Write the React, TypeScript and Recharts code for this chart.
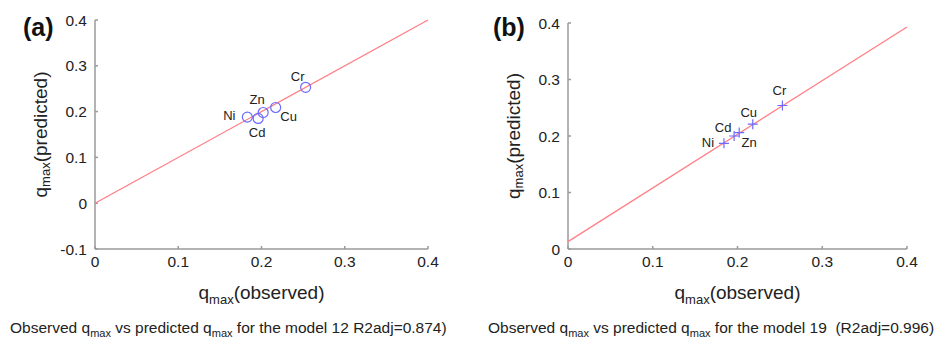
import React from "react";
import { ScatterChart, Scatter, XAxis, YAxis, LabelList, Label } from "recharts";

const metals = ["Ni", "Cd", "Zn", "Cu", "Cr"];
const observedA = [0.183, 0.196, 0.202, 0.217, 0.253];
const predictedA = [0.188, 0.185, 0.198, 0.209, 0.253];
const observedB = [0.184, 0.196, 0.202, 0.218, 0.253];
const predictedB = [0.187, 0.2, 0.206, 0.221, 0.254];
const fitX = [0, 0.4];
const fitA = [0, 0.4];
const fitB = [0.013, 0.393];
const xTicks = [0, 0.1, 0.2, 0.3, 0.4];
const yTicksA = [-0.1, 0, 0.1, 0.2, 0.3, 0.4];
const yTicksB = [0, 0.1, 0.2, 0.3, 0.4];

// label placement around each marker (px), per panel
const labelOffsetA: Record<string, [number, number]> = {
  Ni: [-18, -2],
  Cd: [-1, 14],
  Zn: [-6, -13],
  Cu: [13, 9],
  Cr: [-8, -11],
};
const labelOffsetB: Record<string, [number, number]> = {
  Ni: [-16, -1],
  Cd: [-11, -9],
  Zn: [10, 10],
  Cu: [-4, -12],
  Cr: [-3, -15],
};

const FONT = "'Liberation Sans', Arial, sans-serif";
const AXIS = "#9a9a9a";
const TEXT = "#222";
const FIT = "#ff7f86";
const MARK = "#6b6bff";

const tickStyle = { fill: TEXT, fontSize: 15.5, fontFamily: FONT };

const Circle = (p: any) => (
  <circle cx={p.cx} cy={p.cy} r={5} fill="none" stroke={MARK} strokeWidth={1.2} />
);
const Plus = (p: any) => (
  <path
    d={`M${p.cx - 5},${p.cy}H${p.cx + 5}M${p.cx},${p.cy - 5}V${p.cy + 5}`}
    stroke={MARK}
    strokeWidth={1.2}
  />
);
const NoShape = () => <g />;

const sublabel = (main: string, rest: string) => (
  <>
    <tspan>{main}</tspan>
    <tspan dy={5} fontSize={13}>max</tspan>
    <tspan dy={-5}>{rest}</tspan>
  </>
);

type PanelProps = {
  width: number;
  margin: { top: number; right: number; bottom: number; left: number };
  observed: number[];
  predicted: number[];
  fit: number[];
  yTicks: number[];
  yDomain: [number, number];
  shape: any;
  offsets: Record<string, [number, number]>;
};

const Panel = ({ width, margin, observed, predicted, fit, yTicks, yDomain, shape, offsets }: PanelProps) => {
  const points = metals.map((name, i) => ({ name, x: observed[i], y: predicted[i] }));
  const fitLine = fitX.map((x, i) => ({ x, y: fit[i] }));

  const renderName = (props: any) => {
    const vb = props.viewBox ?? props;
    const cx = vb.x + (vb.width || 0) / 2;
    const cy = vb.y + (vb.height || 0) / 2;
    const [dx, dy] = offsets[props.value] ?? [0, 0];
    return (
      <text
        x={cx + dx}
        y={cy + dy}
        textAnchor="middle"
        dominantBaseline="central"
        fontSize={13}
        fontFamily={FONT}
        fill={TEXT}
      >
        {props.value}
      </text>
    );
  };

  return (
    <ScatterChart width={width} height={342} margin={margin}>
      <XAxis
        xAxisId="b"
        type="number"
        dataKey="x"
        domain={[0, 0.4]}
        ticks={xTicks}
        height={30}
        stroke={AXIS}
        strokeWidth={1.5}
        tickSize={-3}
        tickMargin={10}
        tick={tickStyle}
      >
        <Label
          content={(p: any) => (
            <text
              x={p.viewBox.x + p.viewBox.width / 2}
              y={p.viewBox.y + 50}
              textAnchor="middle"
              fontSize={19}
              fontFamily={FONT}
              fill={TEXT}
            >
              {sublabel("q", "(observed)")}
            </text>
          )}
        />
      </XAxis>
      <XAxis
        xAxisId="t"
        orientation="top"
        type="number"
        dataKey="x"
        domain={[0, 0.4]}
        ticks={xTicks}
        height={0}
        stroke={AXIS}
        strokeWidth={1.5}
        tickSize={-3}
        tick={false}
      />
      <YAxis
        yAxisId="l"
        type="number"
        dataKey="y"
        domain={yDomain}
        ticks={yTicks}
        width={50}
        stroke={AXIS}
        strokeWidth={1.5}
        tickSize={-3}
        tickMargin={11}
        tick={tickStyle}
      >
        <Label
          content={(p: any) => {
            const cx = p.viewBox.x - 5;
            const cy = p.viewBox.y + p.viewBox.height / 2;
            return (
              <text
                x={cx}
                y={cy}
                transform={`rotate(-90, ${cx}, ${cy})`}
                textAnchor="middle"
                dominantBaseline="central"
                fontSize={19}
                fontFamily={FONT}
                fill={TEXT}
              >
                {sublabel("q", "(predicted)")}
              </text>
            );
          }}
        />
      </YAxis>
      <YAxis
        yAxisId="r"
        orientation="right"
        type="number"
        dataKey="y"
        domain={yDomain}
        ticks={yTicks}
        width={0}
        stroke={AXIS}
        strokeWidth={1.5}
        tickSize={-3}
        tick={false}
      />
      <Scatter
        xAxisId="b"
        yAxisId="l"
        data={fitLine}
        line={{ stroke: FIT, strokeWidth: 1.3 }}
        shape={NoShape}
        isAnimationActive={false}
      />
      <Scatter xAxisId="b" yAxisId="l" data={points} shape={shape} isAnimationActive={false}>
        <LabelList dataKey="name" content={renderName} />
      </Scatter>
    </ScatterChart>
  );
};

const Caption = ({ left, model }: { left: number; model: string }) => (
  <div
    style={{
      position: "absolute",
      left,
      top: 318,
      fontFamily: FONT,
      fontSize: 15.5,
      color: TEXT,
      whiteSpace: "pre",
      lineHeight: "20px",
    }}
  >
    Observed q<sub style={{ fontSize: 11 }}>max</sub> vs predicted q
    <sub style={{ fontSize: 11 }}>max</sub> for the model {model}
  </div>
);

const Tag = ({ left, text }: { left: number; text: string }) => (
  <div
    style={{
      position: "absolute",
      left,
      top: 13,
      fontFamily: FONT,
      fontSize: 25,
      fontWeight: "bold",
      color: "#111",
      lineHeight: "28px",
    }}
  >
    {text}
  </div>
);

export default function App() {
  return (
    <div style={{ position: "absolute", left: 0, top: 0, width: 941, height: 342, background: "#fff" }}>
      <div style={{ position: "absolute", left: 0, top: 0 }}>
        <Panel
          width={470}
          margin={{ top: 20, right: 42, bottom: 63, left: 45 }}
          observed={observedA}
          predicted={predictedA}
          fit={fitA}
          yTicks={yTicksA}
          yDomain={[-0.1, 0.4]}
          shape={Circle}
          offsets={labelOffsetA}
        />
      </div>
      <div style={{ position: "absolute", left: 470, top: 0 }}>
        <Panel
          width={471}
          margin={{ top: 23, right: 34, bottom: 63, left: 48 }}
          observed={observedB}
          predicted={predictedB}
          fit={fitB}
          yTicks={yTicksB}
          yDomain={[0, 0.4]}
          shape={Plus}
          offsets={labelOffsetB}
        />
      </div>
      <Tag left={23} text="(a)" />
      <Tag left={493} text="(b)" />
      <Caption left={10} model="12 R2adj=0.874)" />
      <Caption left={488} model="19  (R2adj=0.996)" />
    </div>
  );
}
